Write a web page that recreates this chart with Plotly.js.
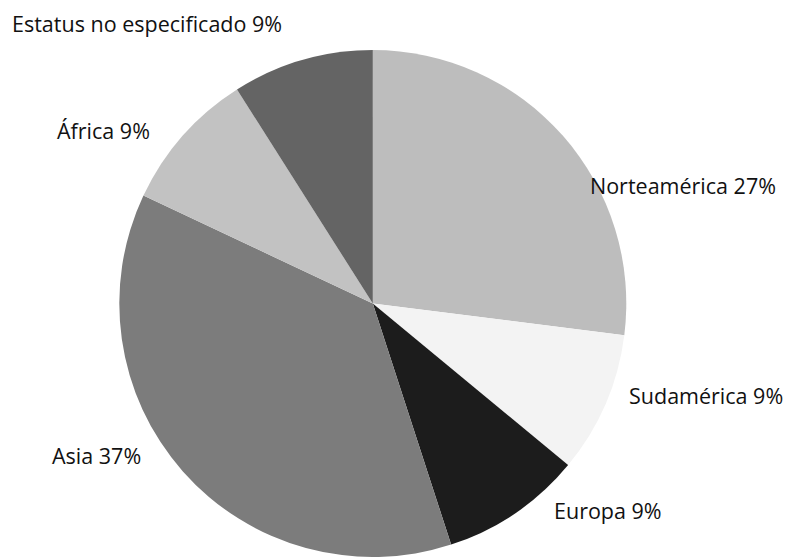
<!DOCTYPE html>
<html>
<head>
<meta charset="utf-8">
<script src="https://cdn.plot.ly/plotly-3.0.1.min.js"></script>
<style>
  html, body { margin: 0; padding: 0; background: #ffffff; overflow: hidden; }
  #chart { width: 800px; height: 557px; }
</style>
</head>
<body>
<div id="chart"></div>
<script>
// Data
const regions = ["Norteamérica", "Sudamérica", "Europa", "Asia", "África", "Estatus no especificado"];
const percents = [27, 9, 9, 37, 9, 9];
const sliceColors = ["#bdbdbd", "#f3f3f3", "#1c1c1c", "#7c7c7c", "#c2c2c2", "#646464"];

// Label placement (pixels): [x, y, anchor]
const labelPlacement = [
  [683, 185, "center"],
  [785, 395, "right"],
  [552, 510, "left"],
  [143, 455, "right"],
  [152, 131, "right"],
  [10, 24, "left"]
];

const W = 800, H = 557;
const annotations = regions.map((r, i) => ({
  xref: "paper", yref: "paper",
  x: labelPlacement[i][0] / W,
  y: 1 - labelPlacement[i][1] / H,
  xanchor: labelPlacement[i][2],
  yanchor: "middle",
  text: r + " " + percents[i] + "%",
  showarrow: false,
  font: { family: "Open Sans, sans-serif", size: 21.5, color: "#111111" }
}));

const trace = {
  type: "pie",
  labels: regions,
  values: percents,
  sort: false,
  direction: "clockwise",
  rotation: 0,
  marker: { colors: sliceColors, line: { width: 0 } },
  textinfo: "none",
  hoverinfo: "label+percent",
  domain: { x: [0.149, 0.783], y: [0, 0.9102] },
  showlegend: false
};

const layout = {
  width: W, height: H,
  margin: { l: 0, r: 0, t: 0, b: 0 },
  paper_bgcolor: "#ffffff",
  plot_bgcolor: "#ffffff",
  showlegend: false,
  annotations: annotations
};

Plotly.newPlot("chart", [trace], layout, { displayModeBar: false, staticPlot: true });
</script>
</body>
</html>
